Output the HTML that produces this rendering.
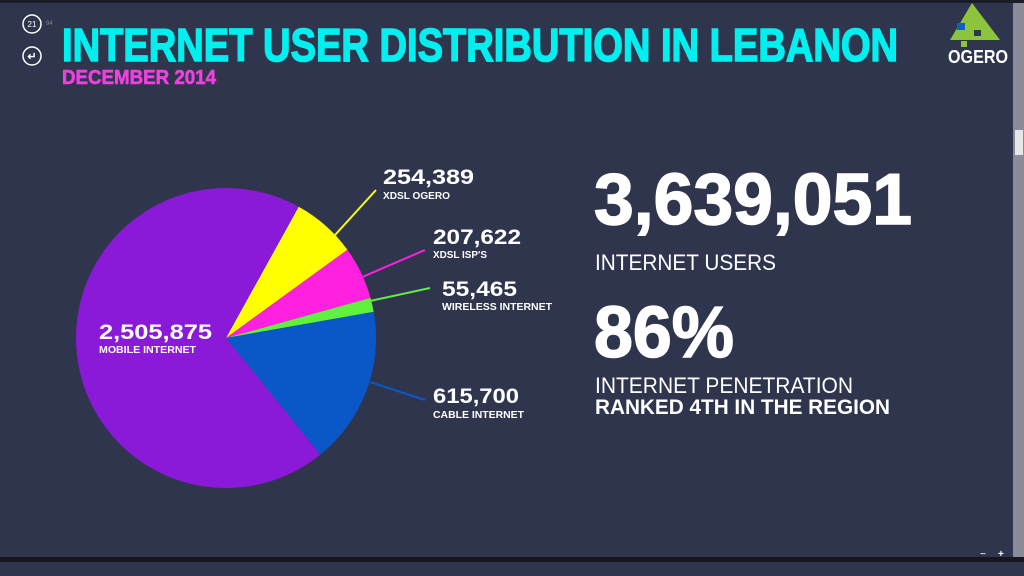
<!DOCTYPE html>
<html><head><meta charset="utf-8"><style>
html,body{margin:0;padding:0;background:#30354e;overflow:hidden}
svg{display:block}
text{font-family:"Liberation Sans",sans-serif;font-weight:bold}
text.n{font-weight:normal}
</style></head><body>
<svg width="1024" height="576" viewBox="0 0 1024 576">
<rect width="1024" height="576" fill="#30354e"/>
<rect width="1024" height="3" fill="#1a1c28"/>
<rect x="1013" y="3" width="11" height="555" fill="#8a8d99"/>
<rect x="1015" y="130" width="8" height="25" fill="#e6e6e6"/>
<rect x="0" y="557" width="1024" height="5" fill="#15161f"/>
<rect x="0" y="562" width="1024" height="14" fill="#30354e"/>
<text x="980" y="557" fill="#ccc" font-size="10">−</text>
<text x="998" y="557" fill="#fff" font-size="10">+</text>
<circle cx="32" cy="24" r="9" fill="none" stroke="#fff" stroke-width="1.5"/>
<text class="n" x="32" y="27" fill="#fff" font-size="8" text-anchor="middle">21</text>
<text class="n" x="46" y="25" fill="#888" font-size="6">94</text>
<circle cx="32" cy="56" r="9" fill="none" stroke="#fff" stroke-width="1.5"/>
<text x="32" y="60" fill="#fff" font-size="11" text-anchor="middle">↵</text>
<text x="62" y="61" fill="#00f0f0" stroke="#00f0f0" stroke-width="1.5" font-size="46" textLength="836" lengthAdjust="spacingAndGlyphs">INTERNET USER DISTRIBUTION IN LEBANON</text>
<text x="62" y="84" fill="#f040e0" stroke="#f040e0" stroke-width="0.6" font-size="20" textLength="154" lengthAdjust="spacingAndGlyphs">DECEMBER 2014</text>
<polygon points="972,3 1000,40 950,40" fill="#8cc43c"/>
<rect x="957" y="23" width="8" height="7" fill="#1060c0"/>
<rect x="974" y="30" width="7" height="6" fill="#30354e"/>
<rect x="961" y="41" width="6" height="6" fill="#8cc43c"/>
<text x="948" y="63" fill="#fff" font-size="18" textLength="60" lengthAdjust="spacingAndGlyphs">OGERO</text>
<path d="M226,338 L298.7,206.8 A150,150 0 0 1 347.4,249.8 Z" fill="#ffff00"/>
<path d="M226,338 L347.4,249.8 A150,150 0 0 1 370.5,297.9 Z" fill="#ff20e0"/>
<path d="M226,338 L370.5,297.9 A150,150 0 0 1 373.7,311.9 Z" fill="#60f040"/>
<path d="M226,338 L373.7,311.9 A150,150 0 0 1 320.4,454.6 Z" fill="#0a58c8"/>
<path d="M226,338 L320.4,454.6 A150,150 0 1 1 298.7,206.8 Z" fill="#8a1ad8"/>
<line x1="335" y1="235" x2="376" y2="190" stroke="#ffff00" stroke-width="2"/>
<line x1="360" y1="278" x2="425" y2="250" stroke="#ff20e0" stroke-width="2"/>
<line x1="370" y1="301" x2="430" y2="288" stroke="#60f040" stroke-width="2"/>
<line x1="370" y1="382" x2="425" y2="400" stroke="#0a58c8" stroke-width="2"/>
<text x="383" y="184" fill="#fff" font-size="21" textLength="91" lengthAdjust="spacingAndGlyphs">254,389</text>
<text x="383" y="199" fill="#fff" font-size="10" textLength="67" lengthAdjust="spacingAndGlyphs">XDSL OGERO</text>
<text x="433" y="244" fill="#fff" font-size="21" textLength="88" lengthAdjust="spacingAndGlyphs">207,622</text>
<text x="433" y="258" fill="#fff" font-size="10" textLength="54" lengthAdjust="spacingAndGlyphs">XDSL ISP'S</text>
<text x="442" y="296" fill="#fff" font-size="21" textLength="75" lengthAdjust="spacingAndGlyphs">55,465</text>
<text x="442" y="310" fill="#fff" font-size="10" textLength="110" lengthAdjust="spacingAndGlyphs">WIRELESS INTERNET</text>
<text x="433" y="403" fill="#fff" font-size="21" textLength="86" lengthAdjust="spacingAndGlyphs">615,700</text>
<text x="433" y="418" fill="#fff" font-size="10" textLength="91" lengthAdjust="spacingAndGlyphs">CABLE INTERNET</text>
<text x="99" y="339" fill="#fff" font-size="21" textLength="113" lengthAdjust="spacingAndGlyphs">2,505,875</text>
<text x="99" y="353" fill="#fff" font-size="10" textLength="97" lengthAdjust="spacingAndGlyphs">MOBILE INTERNET</text>
<text x="594" y="224" fill="#fff" stroke="#fff" stroke-width="1.5" font-size="72" textLength="318" lengthAdjust="spacingAndGlyphs">3,639,051</text>
<text class="n" x="595" y="270" fill="#fff" font-size="22" textLength="181" lengthAdjust="spacingAndGlyphs">INTERNET USERS</text>
<text x="594" y="357" fill="#fff" stroke="#fff" stroke-width="1.5" font-size="72" textLength="140" lengthAdjust="spacingAndGlyphs">86%</text>
<text class="n" x="595" y="393" fill="#fff" font-size="22" textLength="258" lengthAdjust="spacingAndGlyphs">INTERNET PENETRATION</text>
<text x="595" y="414" fill="#fff" font-size="21" textLength="295" lengthAdjust="spacingAndGlyphs">RANKED 4TH IN THE REGION</text>
</svg>
</body></html>
